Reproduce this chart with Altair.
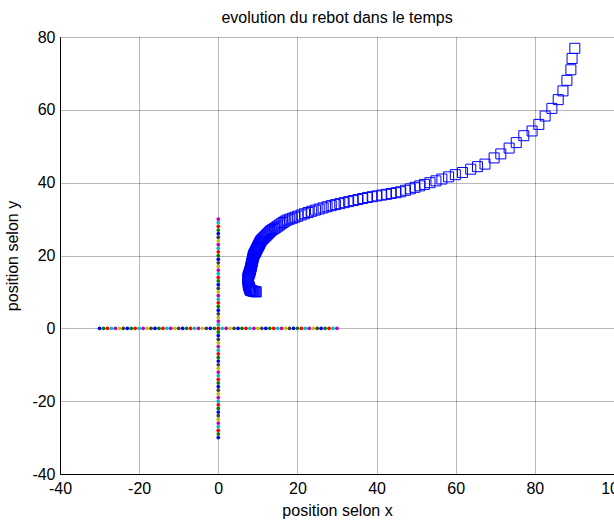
import altair as alt
import pandas as pd

# Robot trajectory (blue open squares)
traj_x = [9.6, 9.35, 9.11, 8.86, 8.62, 8.37, 8.12, 8.03, 7.95, 7.87, 7.79, 7.7, 7.62,
          7.59, 7.58, 7.56, 7.55, 7.54, 7.52, 7.51, 7.53, 7.61, 7.69, 7.77, 7.84, 7.92,
          8.0, 8.08, 8.14, 8.19, 8.24, 8.3, 8.35, 8.41, 8.46, 8.51, 8.57, 8.62, 8.67,
          8.73, 8.78, 8.84, 8.89, 8.99, 9.11, 9.22, 9.33, 9.45, 9.56, 9.67, 9.79, 9.9,
          10.02, 10.13, 10.24, 10.36, 10.47, 10.58, 10.7, 10.91, 11.18, 11.45, 11.72,
          11.99, 12.26, 12.53, 12.8, 13.07, 13.34, 13.76, 14.18, 14.6, 15.01, 15.43,
          15.89, 16.37, 16.85, 17.41, 18.05, 18.71, 19.39, 20.1,
          20.95, 21.8, 22.7, 23.6, 24.55, 25.5, 26.5, 27.5, 28.55, 29.6, 30.7, 31.8,
          32.95, 34.1, 35.3, 36.5, 37.7, 38.9, 40.1, 41.3, 42.5, 43.7, 44.9, 46.1,
          47.3, 48.5, 49.7, 50.9, 52.1, 53.5,
          55.0, 56.5, 58.2, 59.9, 61.7, 63.8, 65.5, 67.4, 69.7, 71.4, 73.5, 75.3,
          77.2, 79.3, 81.0, 82.6, 84.3, 85.9, 87.1, 88.1, 89.1, 89.4, 90.1]
traj_y = [10.0, 10.07, 10.13, 10.2, 10.26, 10.33, 10.39, 10.63, 10.89, 11.15, 11.41, 11.66, 11.92,
          12.19, 12.47, 12.74, 13.01, 13.29, 13.56, 13.84, 14.1, 14.36, 14.62, 14.88, 15.14, 15.4,
          15.66, 15.92, 16.19, 16.46, 16.72, 16.99, 17.26, 17.53, 17.8, 18.07, 18.34, 18.6, 18.87,
          19.14, 19.41, 19.68, 19.95, 20.2, 20.44, 20.69, 20.93, 21.18, 21.42, 21.67, 21.91, 22.16,
          22.41, 22.65, 22.9, 23.14, 23.39, 23.63, 23.88, 24.22, 24.51, 24.8, 25.09,
          25.38, 25.67, 25.97, 26.26, 26.55, 26.83, 27.14, 27.45, 27.75, 28.06, 28.37,
          28.71, 29.06, 29.42, 29.72, 29.98, 30.24, 30.52, 30.8,
          31.13, 31.46, 31.8, 32.15, 32.47, 32.76, 33.07, 33.37, 33.69, 33.97, 34.24, 34.51,
          34.79, 35.07, 35.36, 35.66, 35.94, 36.15, 36.37, 36.59, 36.8, 37.02, 37.24, 37.5,
          37.91, 38.31, 38.72, 39.12, 39.53, 40.0,
          40.5, 41.0, 41.6, 42.2, 42.8, 43.7, 44.4, 45.1, 46.8, 47.9, 49.5, 51.0,
          52.9, 54.2, 56.0, 58.3, 60.4, 62.8, 65.2, 68.1, 71.0, 74.1, 76.9]

# Cross of small coloured dots along the axes
dot_positions = list(range(-30, 31))
color_names = ["b", "g", "r", "c", "m", "y", "k"]
color_values = ["#0000ff", "#008000", "#ff0000", "#00bfbf", "#bf00bf", "#bfbf00", "#404040"]

x_ticks = [-40, -20, 0, 20, 40, 60, 80, 100]
y_ticks = [-40, -20, 0, 20, 40, 60, 80]

traj = pd.DataFrame({"x": traj_x, "y": traj_y})
rows = []
for i, p in enumerate(dot_positions):
    c = color_names[i % len(color_names)]
    rows.append({"x": p, "y": 0, "c": c, "o": 2 * i})
    rows.append({"x": 0, "y": p, "c": c, "o": 2 * i + 1})
dots = pd.DataFrame(rows)

FONT = "Liberation Sans"

xs = alt.Scale(domain=[-40, 100], nice=False, zero=False)
ys = alt.Scale(domain=[-40, 80], nice=False, zero=False)

xaxis = alt.Axis(values=x_ticks, title="position selon x", labelExpr="'' + datum.value",
                 grid=True, ticks=False, labelPadding=6, labelFlush=False,
                 titleY=36, titleBaseline="middle")
yaxis = alt.Axis(values=y_ticks, title="position selon y", labelExpr="'' + datum.value",
                 grid=True, ticks=False, labelPadding=5, labelFlush=False,
                 titleX=-48, titleBaseline="middle")

dot_layer = alt.Chart(dots).mark_point(filled=True, shape="circle", size=14, opacity=1).encode(
    x=alt.X("x:Q", scale=xs, axis=xaxis),
    y=alt.Y("y:Q", scale=ys, axis=yaxis),
    color=alt.Color("c:N", scale=alt.Scale(domain=color_names, range=color_values), legend=None),
    order="o:Q",
)

sq_layer = alt.Chart(traj).mark_point(shape="square", filled=False, size=100,
                                      color="#0000ff", strokeWidth=1, opacity=1).encode(
    x=alt.X("x:Q", scale=xs),
    y=alt.Y("y:Q", scale=ys),
)

chart = alt.layer(dot_layer, sq_layer).properties(
    width=554, height=437,
    title=alt.TitleParams("evolution du rebot dans le temps", font=FONT, fontSize=16,
                          fontWeight="normal", color="#000000", offset=3),
    autosize=alt.AutoSizeParams(type="none"),
    padding={"left": 60, "top": 37, "right": 0, "bottom": 48},
    background="#ffffff",
).configure_view(stroke=None).configure_axis(
    labelFont=FONT, labelFontSize=16, labelColor="#000000",
    titleFont=FONT, titleFontSize=16, titleColor="#000000", titleFontWeight="normal",
    domainColor="#000000", domainWidth=1,
    gridColor="#000000", gridDash=[1, 1], gridWidth=1, gridOpacity=0.55,
)

chart.save("out.html", embed_options={"renderer": "svg", "actions": False})
